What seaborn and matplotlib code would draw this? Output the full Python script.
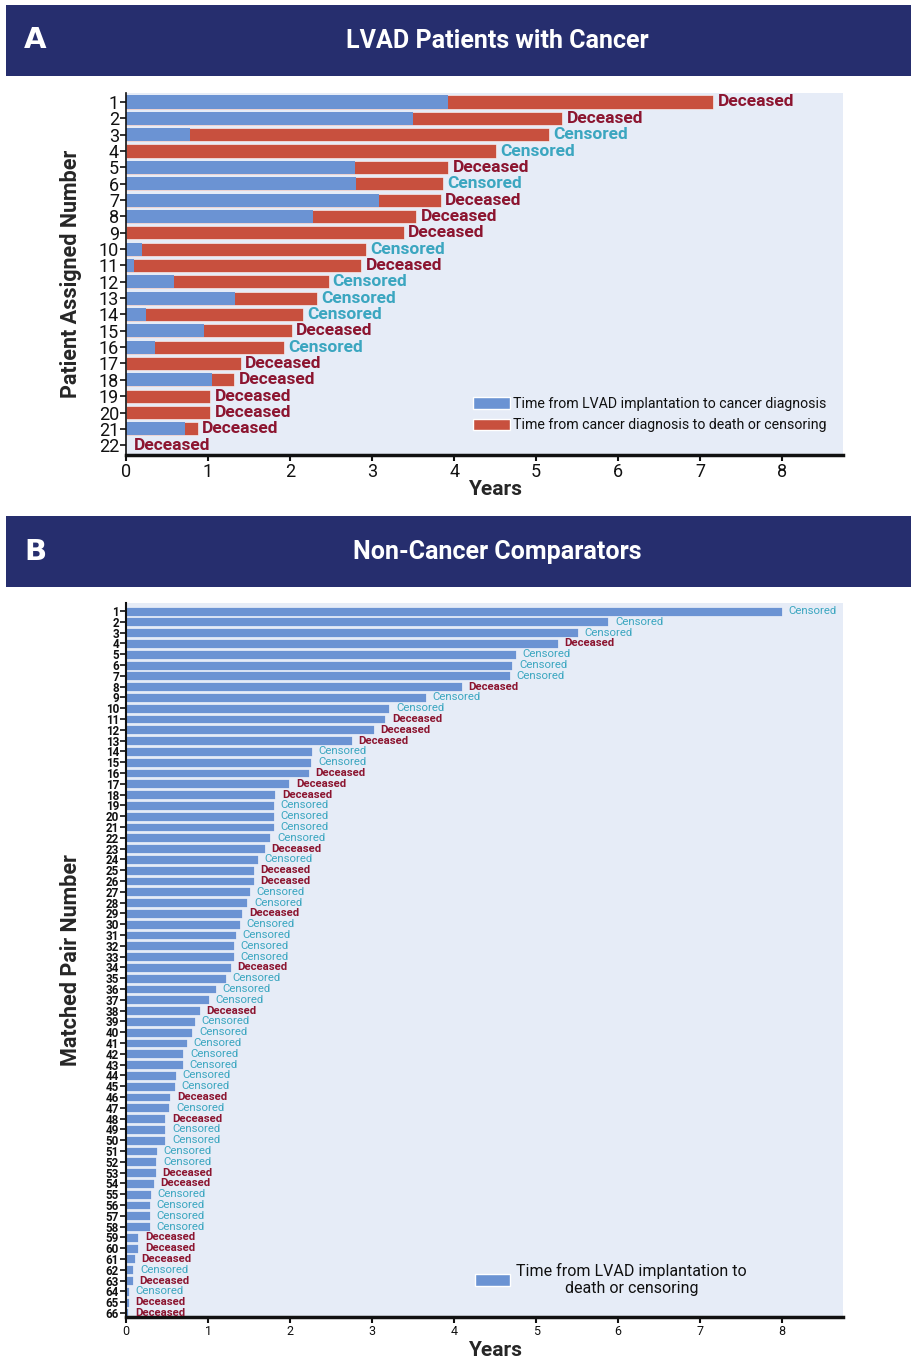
import matplotlib
matplotlib.use("Agg")
import matplotlib.pyplot as plt
from matplotlib.patches import Rectangle, Patch
import seaborn as sns
import pandas as pd
from matplotlib import font_manager

# ---------------- Panel A data: LVAD patients with cancer ----------------
patients_a = [str(i) for i in range(1, 23)]
to_diagnosis_a = [3.93, 3.50, 0.78, 0.00, 2.79, 2.80, 3.09, 2.28, 0.00, 0.20, 0.10,
                  0.59, 1.33, 0.24, 0.95, 0.35, 0.00, 1.05, 0.00, 0.00, 0.72, 0.00]
total_a = [7.16, 5.32, 5.16, 4.51, 3.93, 3.86, 3.84, 3.54, 3.39, 2.93, 2.87,
           2.47, 2.33, 2.16, 2.02, 1.93, 1.40, 1.32, 1.03, 1.03, 0.88, 0.00]
status_a = ["Deceased", "Deceased", "Censored", "Censored", "Deceased", "Censored",
            "Deceased", "Deceased", "Deceased", "Censored", "Deceased", "Censored",
            "Censored", "Censored", "Deceased", "Censored", "Deceased", "Deceased",
            "Deceased", "Deceased", "Deceased", "Deceased"]

# ---------------- Panel B data: non-cancer comparators ----------------
pairs_b = [str(i) for i in range(1, 67)]
total_b = [8.00, 5.88, 5.51, 5.26, 4.75, 4.71, 4.68, 4.09, 3.66, 3.21,
           3.16, 3.02, 2.75, 2.27, 2.26, 2.23, 1.99, 1.82, 1.80, 1.80,
           1.80, 1.76, 1.69, 1.61, 1.56, 1.56, 1.51, 1.48, 1.42, 1.39,
           1.34, 1.32, 1.32, 1.28, 1.22, 1.10, 1.01, 0.90, 0.84, 0.81,
           0.74, 0.70, 0.69, 0.61, 0.60, 0.54, 0.53, 0.48, 0.48, 0.48,
           0.38, 0.37, 0.36, 0.34, 0.30, 0.29, 0.29, 0.29, 0.15, 0.15,
           0.11, 0.09, 0.08, 0.035, 0.035, 0.03]
status_b = ["Censored", "Censored", "Censored", "Deceased", "Censored", "Censored",
            "Censored", "Deceased", "Censored", "Censored", "Deceased", "Deceased",
            "Deceased", "Censored", "Censored", "Deceased", "Deceased", "Deceased",
            "Censored", "Censored", "Censored", "Censored", "Deceased", "Censored",
            "Deceased", "Deceased", "Censored", "Censored", "Deceased", "Censored",
            "Censored", "Censored", "Censored", "Deceased", "Censored", "Censored",
            "Censored", "Deceased", "Censored", "Censored", "Censored", "Censored",
            "Censored", "Censored", "Censored", "Deceased", "Censored", "Deceased",
            "Censored", "Censored", "Censored", "Censored", "Deceased", "Deceased",
            "Censored", "Censored", "Censored", "Censored", "Deceased", "Deceased",
            "Deceased", "Censored", "Deceased", "Censored", "Deceased", "Deceased"]

x_ticks = list(range(0, 9))

# ---------------- styling ----------------
BLUE = "#6b93d3"
RED = "#c8503e"
NAVY = "#262e6e"
PANEL_BG = "#e6ecf7"
STATUS_COLORS = {"Deceased": "#8c1530", "Censored": "#3ba6c0"}

sns.set_theme(style="white")
available = {f.name for f in font_manager.fontManager.ttflist}
family = [f for f in ["Liberation Sans Narrow", "Roboto", "DejaVu Sans"] if f in available]
plt.rcParams["font.family"] = family
plt.rcParams["axes.edgecolor"] = "#111111"
plt.rcParams["text.color"] = "#111111"

W, H = 911, 1359
fig = plt.figure(figsize=(W / 100, H / 100), dpi=100)
fig.patch.set_facecolor("white")


def fig_box(x0, y0, x1, y1):
    """Pixel box (top-left origin) -> figure-fraction rect."""
    return [x0 / W, 1 - y1 / H, (x1 - x0) / W, (y1 - y0) / H]


def header(y0, y1, letter, title):
    l, b, w, h = fig_box(6, y0, 911, y1)
    fig.patches.append(Rectangle((l, b), w, h, transform=fig.transFigure,
                                 facecolor=NAVY, edgecolor="none", zorder=0))
    yc = b + h / 2
    fig.text(35 / W, yc, letter, color="white", fontsize=21, fontweight="bold",
             ha="center", va="center", family=["DejaVu Sans"])
    fig.text(497 / W, yc, title, color="white", fontsize=18, fontweight="bold",
             ha="center", va="center")


header(5, 76, "A", "LVAD Patients with Cancer")
header(516, 587, "B", "Non-Cancer Comparators")

AX_L, AX_R = 126, 843

# ---------------- Panel A ----------------
axA = fig.add_axes(fig_box(AX_L, 93, AX_R, 455))
axA.set_facecolor(PANEL_BG)
dfA = pd.DataFrame({"patient": patients_a, "to_dx": to_diagnosis_a,
                    "total": total_a, "status": status_a})
sns.barplot(data=dfA, y="patient", x="total", order=patients_a, orient="h",
            color=RED, saturation=1, width=0.8, edgecolor="white", linewidth=0.4,
            ax=axA)
sns.barplot(data=dfA, y="patient", x="to_dx", order=patients_a, orient="h",
            color=BLUE, saturation=1, width=0.8, edgecolor="none", linewidth=0,
            ax=axA)
for i, (t, s) in enumerate(zip(total_a, status_a)):
    axA.text(t + 0.05 if t > 0 else 0.1, i, s, color=STATUS_COLORS[s],
             fontsize=12.5, fontweight="bold", va="center", ha="left")

axA.set_xlim(0, 8.74)
axA.set_ylim(len(patients_a) - 0.4, -0.55)
axA.set_xticks(x_ticks)
axA.set_xticklabels([str(v) for v in x_ticks], fontsize=13)
axA.tick_params(axis="y", labelsize=13, length=4, width=1.2, pad=1, left=True,
                colors="#111111")
axA.tick_params(axis="x", length=4, width=1.5, pad=2, bottom=True, colors="#111111")
axA.set_xlabel("Years", fontsize=15, fontweight="bold", labelpad=0)
axA.xaxis.set_label_coords((495 - AX_L) / (AX_R - AX_L), -0.07)
axA.set_ylabel("Patient Assigned Number", fontsize=15.5, fontweight="bold")
axA.yaxis.set_label_coords(-0.062, 0.5)
for side in ["top", "right"]:
    axA.spines[side].set_visible(False)
axA.spines["left"].set_linewidth(1.2)
axA.spines["bottom"].set_linewidth(2.5)
axA.legend(handles=[Patch(facecolor=BLUE, label="Time from LVAD implantation to cancer diagnosis"),
                    Patch(facecolor=RED, label="Time from cancer diagnosis to death or censoring")],
           loc="lower right", bbox_to_anchor=(0.985, 0.047), borderaxespad=0,
           frameon=False, fontsize=10.2,
           handlelength=2.6, handleheight=0.9, handletextpad=0.2, labelspacing=0.5)

# ---------------- Panel B ----------------
axB = fig.add_axes(fig_box(AX_L, 603, AX_R, 1317))
axB.set_facecolor(PANEL_BG)
dfB = pd.DataFrame({"pair": pairs_b, "total": total_b, "status": status_b})
sns.barplot(data=dfB, y="pair", x="total", order=pairs_b, orient="h",
            color=BLUE, saturation=1, width=0.82, edgecolor="white", linewidth=0.4,
            ax=axB)
for i, (t, s) in enumerate(zip(total_b, status_b)):
    axB.text(t + 0.08, i, s, color=STATUS_COLORS[s], fontsize=8.2,
             fontweight="bold" if s == "Deceased" else "normal",
             va="center", ha="left")

axB.set_xlim(0, 8.74)
axB.set_ylim(len(pairs_b) - 0.62, -0.75)
axB.set_xticks(x_ticks)
axB.set_xticklabels([str(v) for v in x_ticks], fontsize=9)
axB.tick_params(axis="y", labelsize=8.4, length=4, width=1.2, pad=1, left=True,
                colors="#111111")
for lab in axB.get_yticklabels():
    lab.set_fontweight("bold")
axB.tick_params(axis="x", length=4, width=1.5, pad=2, bottom=True, colors="#111111")
axB.set_xlabel("Years", fontsize=15, fontweight="bold")
axB.xaxis.set_label_coords((495 - AX_L) / (AX_R - AX_L), -0.033)
axB.set_ylabel("Matched Pair Number", fontsize=15.5, fontweight="bold")
axB.yaxis.set_label_coords(-0.062, 0.5)
for side in ["top", "right"]:
    axB.spines[side].set_visible(False)
axB.spines["left"].set_linewidth(1.5)
axB.spines["bottom"].set_linewidth(2.5)
axB.legend(handles=[Patch(facecolor=BLUE, label="Time from LVAD implantation to\ndeath or censoring")],
           loc="lower right", bbox_to_anchor=(0.875, 0.02), borderaxespad=0,
           frameon=False, fontsize=11.5,
           handlelength=2.2, handleheight=0.7, handletextpad=0.4)
for t in axB.get_legend().get_texts():
    t.set_multialignment("center")

fig.savefig("out.png", dpi=100, facecolor="white")
